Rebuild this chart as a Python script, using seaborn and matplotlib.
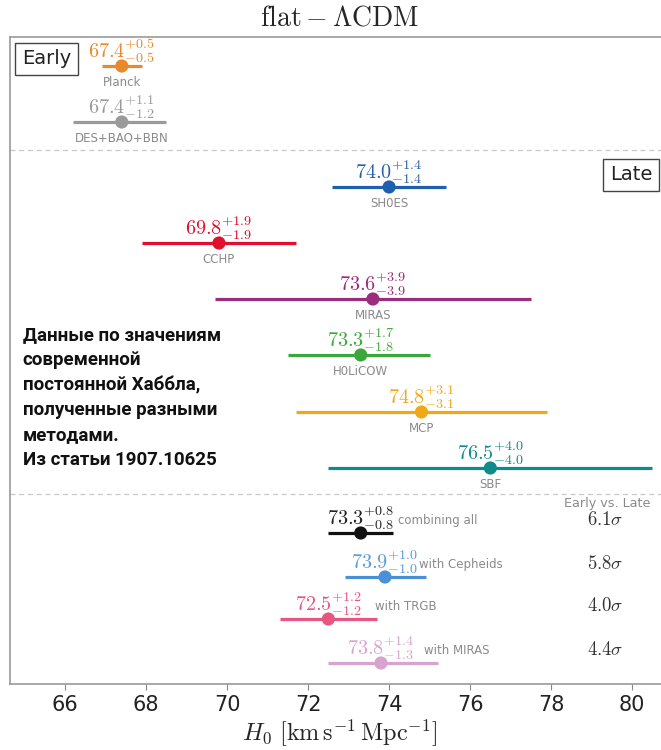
import matplotlib
matplotlib.use("Agg")
import matplotlib.pyplot as plt
import seaborn as sns
import pandas as pd

# ---- data ----
names = ["Planck", "DES+BAO+BBN", "SH0ES", "CCHP", "MIRAS", "H0LiCOW", "MCP", "SBF",
         "combining all", "with Cepheids", "with TRGB", "with MIRAS"]
h0 = [67.4, 67.4, 74.0, 69.8, 73.6, 73.3, 74.8, 76.5, 73.3, 73.9, 72.5, 73.8]
err_plus = [0.5, 1.1, 1.4, 1.9, 3.9, 1.7, 3.1, 4.0, 0.8, 1.0, 1.2, 1.4]
err_minus = [0.5, 1.2, 1.4, 1.9, 3.9, 1.8, 3.1, 4.0, 0.8, 1.0, 1.2, 1.3]
sigma_labels = ["6.1", "5.8", "4.0", "4.4"]
xticks = [66, 68, 70, 72, 74, 76, 78, 80]
note = ("Данные по значениям\nсовременной\nпостоянной Хаббла,\n"
        "полученные разными\nметодами.\nИз статьи 1907.10625")

# ---- layout / style ----
ypos = [29, 85, 150, 206, 262, 318, 375, 431, 496, 540, 582, 626]
colors = ["#e8892b", "#9a9a9a", "#1f5fb0", "#e0102e", "#9b2d7f", "#3aa83a", "#f0a818",
          "#108a8a", "#111111", "#4a90d6", "#e85580", "#d9a3cf"]
label_colors = ["#e8892b", "#9a9a9a", "#2a5fa8", "#e0102e", "#9b2d7f", "#3aa83a", "#f0a818",
                "#108a8a", "#222222", "#5a9ad8", "#e85580", "#d9a3cf"]
bold = [False, False, True, True, True, True, False, True, True, False, False, False]
name_offsets = [37, 34, 47, 43]  # px offsets for bottom-section descriptions

sns.set_style("white")
plt.rcParams["mathtext.fontset"] = "cm"
plt.rcParams["font.family"] = ["DejaVu Sans"]

fig = plt.figure(figsize=(6.61, 7.5), dpi=100)
px = 1 / 661
x0, x1 = 64.64, 81.5
width_px = (x1 - x0) * 40.5
ax = fig.add_axes([10 * px, (750 - 684) / 750, width_px * px, (684 - 37) / 750])

df = pd.DataFrame({"name": names, "H0": h0, "y": ypos})

# error bars
for i in range(len(names)):
    ax.hlines(ypos[i], h0[i] - err_minus[i], h0[i] + err_plus[i], color=colors[i],
              lw=2.3, zorder=2)

sns.scatterplot(data=df, x="H0", y="y", hue="name", palette=colors, s=90,
                edgecolor="none", legend=False, ax=ax, zorder=3)

for i in range(len(names)):
    num = r"\mathbf{%.1f}" % h0[i] if bold[i] else "%.1f" % h0[i]
    lab = r"$%s^{+%.1f}_{-%.1f}$" % (num, err_plus[i], err_minus[i])
    ax.annotate(lab, (h0[i], ypos[i]), xytext=(0, 1), textcoords="offset points",
                ha="center", va="bottom", color=label_colors[i], fontsize=14.5)
    if i < 8:
        ax.annotate(names[i], (h0[i], ypos[i]), xytext=(0, -7), textcoords="offset points",
                    ha="center", va="top", color="#8a8a8a", fontsize=8.5)
    else:
        j = i - 8
        ax.annotate(names[i], (h0[i], ypos[i]), xytext=(name_offsets[j] * 0.72, 9),
                    textcoords="offset points", ha="left", va="center",
                    color="#8a8a8a", fontsize=8.5)
        ax.annotate(r"$%s\sigma$" % sigma_labels[j], (79.8, ypos[i]), xytext=(0, 9.5),
                    textcoords="offset points", ha="right", va="center",
                    color="#333333", fontsize=13.5, annotation_clip=False)

ax.text(80.44, 467, "Early vs. Late", ha="right", va="center", color="#8a8a8a", fontsize=9.2)

for yl in [113, 457]:
    ax.axhline(yl, color="#c8c8c8", lw=0.9, ls=(0, (4, 3)), zorder=1)

ax.text(64.93, 22, "Early", fontsize=14, ha="left", va="center", color="#222222",
        bbox=dict(boxstyle="square,pad=0.35", fc="white", ec="#444444", lw=1))
ax.text(79.45, 138, "Late", fontsize=14, ha="left", va="center", color="#222222",
        bbox=dict(boxstyle="square,pad=0.35", fc="white", ec="#444444", lw=1))

ax.text(64.95, 289, note, fontsize=13.5, fontweight="bold", family=["Roboto", "DejaVu Sans"],
        ha="left", va="top", linespacing=1.5, color="#111111")

ax.set_xlim(x0, x1)
ax.set_ylim(647, 0)
ax.set_xticks(xticks)
ax.set_xticklabels([str(t) for t in xticks], fontsize=15, color="#222222")
ax.set_yticks([])
ax.set_ylabel("")
ax.set_xlabel(r"$H_0\ [\mathrm{km\,s^{-1}\,Mpc^{-1}}]$", fontsize=17.5)
ax.xaxis.label.set_va("center")
ax.xaxis.set_label_coords((340 - 10) / width_px, -(733 - 684) / 647)
ax.tick_params(axis="x", bottom=True, length=4, color="#888888", pad=4)
for s in ax.spines.values():
    s.set_color("#999999")
    s.set_linewidth(1.2)

fig.text(340 * px, 1 - 18 / 750, r"$\mathrm{flat}-\Lambda\mathrm{CDM}$", ha="center",
         va="center", fontsize=20)

fig.savefig("out.png", dpi=100)
